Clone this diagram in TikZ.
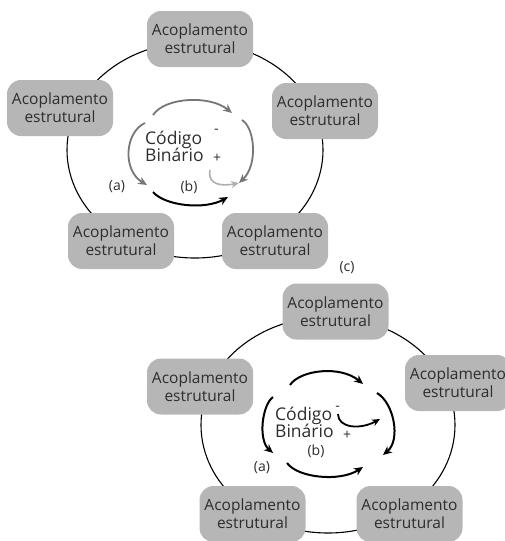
\documentclass[tikz,border=0pt]{standalone}
\usepackage{fontspec}
\setmainfont{Open Sans}
\usetikzlibrary{arrows.meta}
\definecolor{boxgray}{RGB}{182,182,182}
\definecolor{txt}{RGB}{45,45,45}
\definecolor{arrgray}{RGB}{118,118,118}
\definecolor{hookgray}{RGB}{175,175,175}
\begin{document}
\begin{tikzpicture}[x=1pt,y=-1pt,
  acbox/.style={rounded corners=14pt, fill=boxgray, minimum width=106pt, minimum height=56pt,
    inner sep=0pt, align=center, text=txt, font=\fontsize{15.5}{18}\selectfont},
  ring/.style={line width=1.1pt, black},
  codetxt/.style={anchor=base west, inner sep=0pt, text=txt, font=\fontsize{17.5}{20}\selectfont},
  signtxt/.style={inner sep=0pt, text=txt, font=\fontsize{14}{16}\selectfont},
  lbl/.style={inner sep=0pt, text=txt, font=\fontsize{14}{16}\selectfont},
  grayarrow/.style={line width=1.8pt, arrgray, -{Stealth[length=9pt,width=8pt]}},
  blackarrow/.style={line width=2pt, black, -{Stealth[length=9pt,width=8pt]}},
  hookarrow/.style={line width=1.6pt, hookgray, -{Stealth[length=8pt,width=7pt]}},
  hookblack/.style={line width=1.8pt, black, -{Stealth[length=8pt,width=7pt]}}
]
\useasboundingbox (0,0) rectangle (505,541);

% ===== Top diagram =====
\draw[ring] (195,150) ellipse [x radius=128pt, y radius=108pt];
\node[acbox] (t1) at (200,39) {Acoplamento\\estrutural};
\node[acbox] (t2) at (60,108) {Acoplamento\\estrutural};
\node[acbox] (t3) at (325,111) {Acoplamento\\estrutural};
\node[acbox] (t4) at (121,241) {Acoplamento\\estrutural};
\node[acbox] (t5) at (275,241) {Acoplamento\\estrutural};

\node[codetxt] (tcod) at (145,144) {Código};
\node[codetxt] (tbin) at (145,161) {Binário};
\node[signtxt] (tminus) at (216.5,131.5) {-};
\node[signtxt] (tplus) at (217,158.5) {+};
\node[lbl] (ta) at (117,187) {(a)};
\node[lbl] (tb) at (189,187) {(b)};
\node[lbl] (tc) at (347,268) {(c)};

\coordinate (tA1) at (153,115); \coordinate (tA2) at (232,113);
\coordinate (tB1) at (242,120); \coordinate (tB2) at (239,183);
\coordinate (tC1) at (145,123); \coordinate (tC2) at (147,185);
\coordinate (tD1) at (153,192); \coordinate (tD2) at (228,197);
\coordinate (tE1) at (210,170); \coordinate (tE2) at (239,183);
\draw[grayarrow] (tA1) .. controls (165,97) and (210,95) .. (tA2);
\draw[grayarrow] (tB1) .. controls (255,128) and (258,165) .. (tB2);
\draw[grayarrow] (tC1) .. controls (125,132) and (122,170) .. (tC2);
\draw[blackarrow] (tD1) .. controls (165,206) and (205,210) .. (tD2);
\draw[hookarrow] (tE1) .. controls (207,186) and (224,186) .. (tE2);

% ===== Bottom diagram =====
\draw[ring] (328,425) ellipse [x radius=127pt, y radius=108pt];
\node[acbox] (b1) at (335.5,311.5) {Acoplamento\\estrutural};
\node[acbox] (b2) at (200,386.5) {Acoplamento\\estrutural};
\node[acbox] (b3) at (458,383) {Acoplamento\\estrutural};
\node[acbox] (b4) at (252.5,514) {Acoplamento\\estrutural};
\node[acbox] (b5) at (409.5,514) {Acoplamento\\estrutural};

\node[codetxt] (bcod) at (275,420) {Código};
\node[codetxt] (bbin) at (275,437) {Binário};
\node[signtxt] (bminus) at (337.5,408) {-};
\node[signtxt] (bplus) at (347,435) {+};
\node[lbl] (ba) at (262,468) {(a)};
\node[lbl] (bb) at (316,451) {(b)};

\coordinate (bA1) at (290,385); \coordinate (bA2) at (363,384);
\coordinate (bB1) at (377,393); \coordinate (bB2) at (383,455);
\coordinate (bC1) at (273,397); \coordinate (bC2) at (273,453);
\coordinate (bD1) at (287,463); \coordinate (bD2) at (363,467);
\coordinate (bE1) at (338,414); \coordinate (bE2) at (380,419);
\draw[blackarrow] (bA1) .. controls (300,370) and (340,365) .. (bA2);
\draw[blackarrow] (bB1) .. controls (394,403) and (401,440) .. (bB2);
\draw[blackarrow] (bC1) .. controls (262,405) and (258,440) .. (bC2);
\draw[blackarrow] (bD1) .. controls (298,478) and (340,482) .. (bD2);
\draw[hookblack] (bE1) .. controls (338,428) and (360,430) .. (bE2);
\end{tikzpicture}
\end{document}
